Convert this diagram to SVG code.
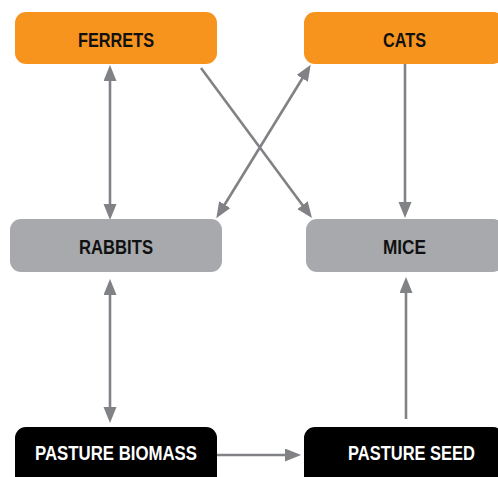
<svg xmlns="http://www.w3.org/2000/svg" width="498" height="477" viewBox="0 0 498 477">
<style>
.orange{fill:#F7941E}
.gray{fill:#A7A9AC}
.black{fill:#000}
.lbl{font-family:"Liberation Sans",Arial,sans-serif;font-weight:bold;font-size:21px;text-anchor:middle}
.dark{fill:#111}
.white{fill:#fff}
.con{stroke:#808285;stroke-width:2.6;fill:none}
</style>
<defs>
<marker id="ah" markerUnits="userSpaceOnUse" markerWidth="17" markerHeight="14" refX="12" refY="6.5" orient="auto-start-reverse" viewBox="0 0 17 14">
<path d="M0,0 L16,6.5 L0,13 z" fill="#808285"/>
</marker>
</defs>
<rect width="498" height="477" fill="#fff"/>
<g id="connectors">
<line class="con" x1="110" y1="69" x2="110" y2="216" marker-start="url(#ah)" marker-end="url(#ah)"/>
<line class="con" x1="110" y1="283" x2="110" y2="419" marker-start="url(#ah)" marker-end="url(#ah)"/>
<line class="con" x1="405" y1="64" x2="405" y2="214" marker-end="url(#ah)"/>
<line class="con" x1="406" y1="419" x2="406" y2="281" marker-end="url(#ah)"/>
<line class="con" x1="217" y1="455" x2="297" y2="455" marker-end="url(#ah)"/>
<line class="con" x1="201" y1="68" x2="309.6" y2="214.8" marker-end="url(#ah)"/>
<line class="con" x1="218.4" y1="214.8" x2="308.6" y2="68.2" marker-start="url(#ah)" marker-end="url(#ah)"/>
</g>
<g id="ferrets">
<rect class="orange" x="15" y="12" width="202" height="52" rx="11"/>
<text class="lbl dark" x="116" y="47" textLength="76" lengthAdjust="spacingAndGlyphs">FERRETS</text>
</g>
<g id="cats">
<rect class="orange" x="304" y="12" width="200" height="52" rx="11"/>
<text class="lbl dark" x="404.5" y="47" textLength="43" lengthAdjust="spacingAndGlyphs">CATS</text>
</g>
<g id="rabbits">
<rect class="gray" x="10" y="219" width="212" height="53" rx="11"/>
<text class="lbl dark" x="116" y="254" textLength="74" lengthAdjust="spacingAndGlyphs">RABBITS</text>
</g>
<g id="mice">
<rect class="gray" x="306" y="219" width="198" height="53" rx="11"/>
<text class="lbl dark" x="404.5" y="254" textLength="43" lengthAdjust="spacingAndGlyphs">MICE</text>
</g>
<g id="pasture-biomass">
<rect class="black" x="15" y="427" width="202" height="62" rx="11"/>
<text class="lbl white" x="116" y="460" textLength="162" lengthAdjust="spacingAndGlyphs">PASTURE BIOMASS</text>
</g>
<g id="pasture-seed">
<rect class="black" x="304" y="427" width="200" height="62" rx="11"/>
<text class="lbl white" x="411.5" y="460" textLength="127" lengthAdjust="spacingAndGlyphs">PASTURE SEED</text>
</g>
</svg>
